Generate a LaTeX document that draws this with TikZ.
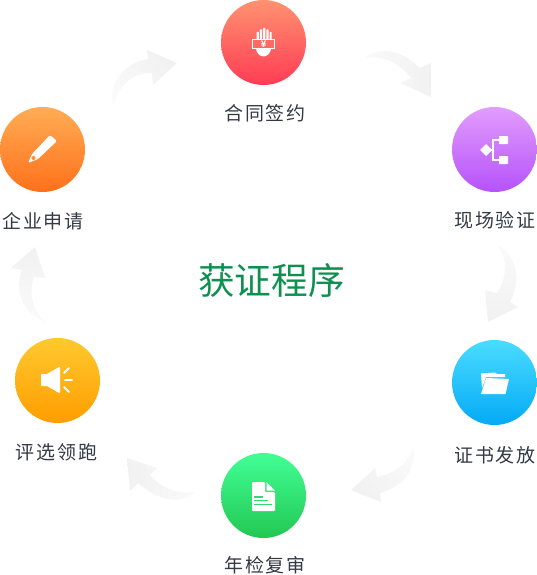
\documentclass[tikz,border=0pt]{standalone}
\usepackage{fontspec}
\setmainfont{Noto Sans CJK SC}
\newfontfamily\stepfont[LetterSpace=10]{Noto Sans CJK SC}
\definecolor{bendgray}{HTML}{F1F1F1}
\definecolor{bendtail}{HTML}{FAFAFA}
\definecolor{labelink}{HTML}{333A45}
\definecolor{titlegreen}{HTML}{0E9150}
\definecolor{greenlines}{HTML}{34D873}
\definecolor{redmid}{HTML}{FF6A62}
\definecolor{redtop}{HTML}{FF9270}
\definecolor{redlow}{HTML}{FF3C55}
\definecolor{purpletop}{HTML}{E29DFC}
\definecolor{purplelow}{HTML}{B552FB}
\definecolor{bluetop}{HTML}{4ADCFF}
\definecolor{bluelow}{HTML}{04AAF5}
\definecolor{greentop}{HTML}{42FF95}
\definecolor{greenlow}{HTML}{22C752}
\definecolor{yellowtop}{HTML}{FFC92E}
\definecolor{yellowlow}{HTML}{FF9D00}
\definecolor{orangetop}{HTML}{FFAD55}
\definecolor{orangelow}{HTML}{FF701A}
\definecolor{orangedot}{HTML}{FF8C32}
\begin{document}
\begin{tikzpicture}[
    x=1pt, y=-1pt,
    hub/.style={circle, minimum size=85pt, inner sep=0pt, outer sep=0pt},
    steplabel/.style={text=labelink, font=\stepfont\fontsize{19}{21}\selectfont, inner sep=0pt},
    bendarrow/.style={draw=none, bottom color=bendtail, middle color=bendgray, top color=bendgray, shading angle=#1},
    glyph/.style={fill=white, draw=none},
    glyphline/.style={draw=white, line width=2pt, line cap=round}]
    \useasboundingbox (0,0) rectangle (537,575);
    % background arrows
    \shade[bendarrow=-90] (365,58) .. controls (378,47) and (400,48) .. (420,68) -- (431,63) -- (431,97) -- (400,83) -- (411,78) .. controls (398,62) and (382,55) .. (365,58) -- cycle;
    \shade[bendarrow=180] (497,245) .. controls (518,255) and (521,282) .. (510,302) -- (518,307) -- (488,322) -- (485,290) -- (497,293) .. controls (507,278) and (508,258) .. (497,245) -- cycle;
    \shade[bendarrow=135] (413,447) .. controls (418,468) and (403,487) .. (380,493) -- (381,502) -- (351,490) -- (375,468) -- (377,477) .. controls (394,474) and (408,464) .. (413,447) -- cycle;
    \shade[bendarrow=90] (195,492) .. controls (178,507) and (155,498) .. (138,483) -- (130,491) -- (127,458) -- (157,468) -- (150,475) .. controls (162,489) and (178,494) .. (195,492) -- cycle;
    \shade[bendarrow=0] (47,323) .. controls (23,313) and (14,292) .. (22,270) -- (11,268) -- (35,247) -- (45,278) -- (34,277) .. controls (28,293) and (33,312) .. (47,323) -- cycle;
    \shade[bendarrow=-45] (113,105) .. controls (108,82) and (125,63) .. (148,59) -- (147,50) -- (177,63) -- (153,85) -- (152,73) .. controls (134,72) and (120,84) .. (113,105) -- cycle;
    % circles
    \node[hub, top color=redtop, bottom color=redlow] (sign) at (263.5,42.5) {};
    \node[hub, top color=purpletop, bottom color=purplelow] (visit) at (494.5,149.5) {};
    \node[hub, top color=bluetop, bottom color=bluelow] (cert) at (494.5,382.5) {};
    \node[hub, top color=greentop, bottom color=greenlow] (audit) at (263.5,495.5) {};
    \node[hub, top color=yellowtop, bottom color=yellowlow] (award) at (57.5,380.5) {};
    \node[hub, top color=orangetop, bottom color=orangelow] (apply) at (42.5,149.5) {};
    % labels
    \node[steplabel] (signtext)  at (265,113.5) {合同签约};
    \node[steplabel] (visittext) at (495,220.5) {现场验证};
    \node[steplabel] (certtext)  at (495,455.5) {证书发放};
    \node[steplabel] (audittext) at (265,565.5) {年检复审};
    \node[steplabel] (awardtext) at (56.5,452.5) {评选领跑};
    \node[steplabel] (applytext) at (43,221.5) {企业申请};
    \node[text=titlegreen, font=\fontsize{36.7}{40}\selectfont, inner sep=0pt] (title) at (271.5,281) {获证程序};
    % icon: hand with banknote
    \foreach \fx/\ftop in {257.8/32, 261/29.5, 264.2/28, 267.4/29.5, 270.6/32}
        \fill[glyph, rounded corners=0.5pt] (\fx-1.1,\ftop) rectangle (\fx+1.1,40);
    \fill[glyph] (256,48) -- (271,48) .. controls (271,53) and (267,56.5) .. (263.5,56.5) .. controls (260,56.5) and (256,53) .. (256,48) -- cycle;
    \node[draw=white, line width=1.3pt, fill=redmid, minimum width=22pt, minimum height=9.5pt, inner sep=0pt, text=white, font=\bfseries\fontsize{9}{9}\selectfont] (note) at (263.5,44) {¥};
    % icon: branching boxes
    \fill[glyph] (486,144) -- (492,150) -- (486,156) -- (480,150) -- cycle;
    \draw[white, line width=1.6pt] (500,140) -- (493,140) -- (493,160) -- (500,160) (493,150) -- (488,150);
    \fill[glyph, rounded corners=0.6pt] (499,136) rectangle (508,144);
    \fill[glyph, rounded corners=0.6pt] (499,156) rectangle (508,164);
    % icon: folder
    \fill[glyph] (481,373.5) -- (495,372.5) -- (497,374) -- (505,374) -- (505,377) -- (486,377) -- (482,388) -- cycle;
    \fill[glyph] (486,378) -- (509,379) -- (505.5,394) -- (481,394) -- cycle;
    % icon: speaker
    \fill[glyph, rounded corners=0.6pt] (41,374) -- (47,374) -- (59,367) -- (60,367) -- (60,393) -- (59,393) -- (47,386) -- (41,386) -- cycle;
    \draw[glyphline] (64,373) -- (69,368);
    \draw[glyphline] (65,380) -- (72,380);
    \draw[glyphline] (64,387) -- (69,392);
    % icon: document
    \fill[glyph, rounded corners=1pt] (252,482) -- (265,482) -- (265,492) -- (275,492) -- (275,511) -- (252,511) -- cycle;
    \fill[glyph] (266.5,482) -- (275,490.5) -- (266.5,490.5) -- cycle;
    \draw[greenlines, line width=1.2pt] (254,497) -- (263,497);
    \draw[greenlines, line width=1.2pt] (254,500.7) -- (268,500.7);
    \draw[greenlines, line width=1.2pt] (254,504.4) -- (272,504.4);
    % icon: pencil
    \fill[glyph, rounded corners=1.5pt] (50,135) -- (57,141) -- (38,159) -- (28,163) -- (32,154) -- cycle;
    \fill[orangedot] (33.5,158) circle (2pt);
\end{tikzpicture}
\end{document}
